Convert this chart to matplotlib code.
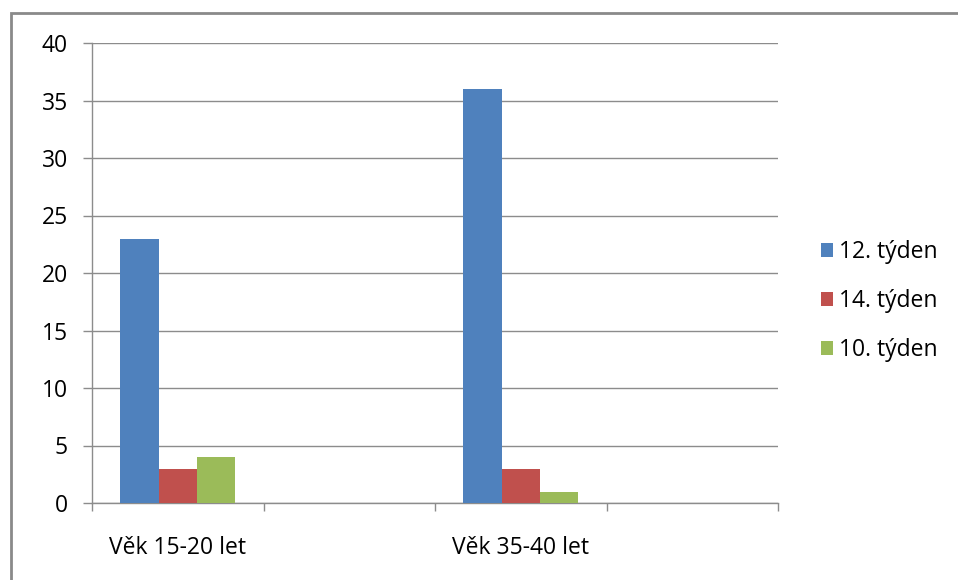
import numpy as np
import matplotlib.pyplot as plt
from matplotlib.patches import Rectangle

# Groups on the x axis (every other slot is left empty)
categories = ['Věk 15-20 let', '', 'Věk 35-40 let', '']
series_names = ['12. týden', '14. týden', '10. týden']
week12 = [23, 0, 36, 0]
week14 = [3, 0, 3, 0]
week10 = [4, 0, 1, 0]
colors = ['#4F81BD', '#C0504D', '#9BBB59']
yticks = [0, 5, 10, 15, 20, 25, 30, 35, 40]

plt.rcParams['font.family'] = ['Open Sans', 'DejaVu Sans']
fs = 16.5

fig = plt.figure(figsize=(9.58, 5.8), dpi=100)
ax = fig.add_axes([92 / 958, 1 - 503 / 580, (778 - 92) / 958, (503 - 43) / 580])

x = np.arange(len(categories))
w = 0.224
for i, (vals, name, c) in enumerate(zip([week12, week14, week10], series_names, colors)):
    ax.bar(x + (i - 1) * w, vals, width=w, color=c, label=name, zorder=3)

ax.set_xlim(-0.5, len(categories) - 0.5)
ax.set_ylim(0, 40)
ax.set_yticks(yticks)
ax.yaxis.grid(True, color='#8c8c8c', linewidth=1.0, zorder=0)
ax.set_axisbelow(True)

# category labels in the middle, tick marks on the slot borders
ax.set_xticks(x)
ax.set_xticklabels(categories, fontsize=fs)
ax.set_xticks(np.arange(len(categories) + 1) - 0.5, minor=True)
ax.tick_params(axis='x', which='major', length=0, pad=24)
ax.tick_params(axis='x', which='minor', length=6, color='#8c8c8c', width=1)
ax.tick_params(axis='y', length=6.5, color='#8c8c8c', width=1, pad=11, labelsize=fs)

for s in ['top', 'right']:
    ax.spines[s].set_visible(False)
for s in ['left', 'bottom']:
    ax.spines[s].set_color('#8c8c8c')
    ax.spines[s].set_linewidth(1.0)

leg = fig.legend(loc='center left', bbox_to_anchor=(800 / 958, 1 - 301 / 580),
                 frameon=False, fontsize=fs, handlelength=0.55, handleheight=0.55,
                 handletextpad=0.25, labelspacing=1.1)

# chart area border
fig.add_artist(Rectangle((11 / 958, -0.1), 2, 1 - 13 / 580 + 0.1,
                         transform=fig.transFigure, fill=False,
                         edgecolor='#8a8a8a', linewidth=2, clip_on=False))

fig.savefig('out.png', dpi=100, facecolor='white')
